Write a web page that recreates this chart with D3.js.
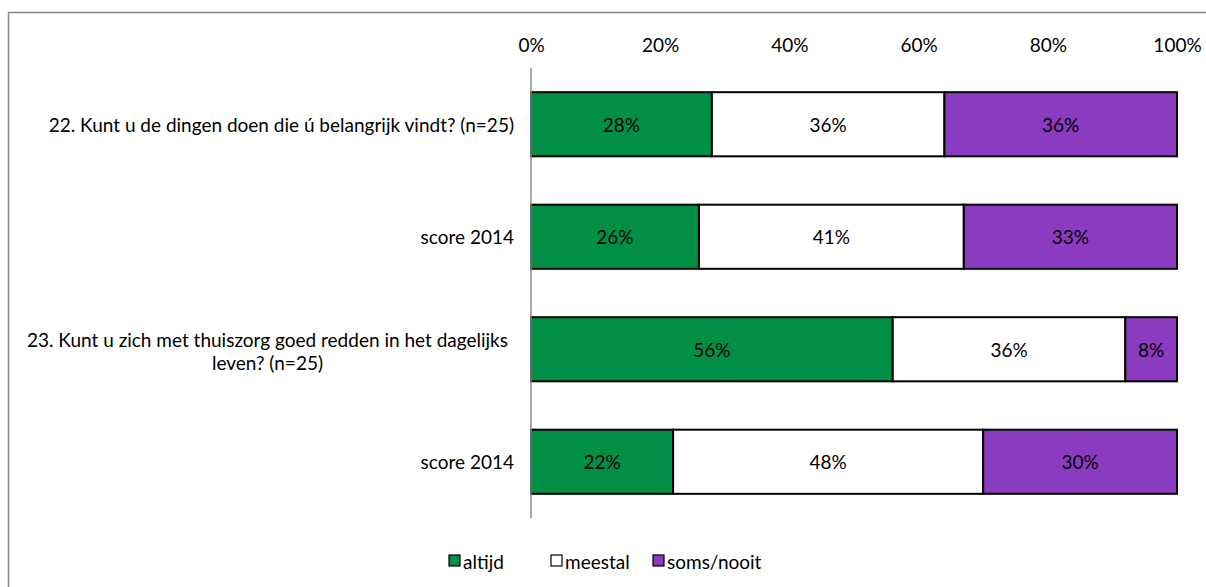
<!DOCTYPE html>
<html>
<head>
<meta charset="utf-8">
<script src="https://cdn.jsdelivr.net/npm/d3@7"></script>
<style>
  body { margin: 0; background: #fff; }
  svg { display: block; font-family: "Lato", "Open Sans", sans-serif; }
</style>
</head>
<body>
<svg id="chart" width="1206" height="587"></svg>
<script>
const categories = [
  ["22. Kunt u de dingen doen die ú belangrijk vindt? (n=25)"],
  ["score 2014"],
  ["23. Kunt u zich met thuiszorg goed redden in het dagelijks", "leven? (n=25)"],
  ["score 2014 "]
];
const seriesNames = ["altijd", "meestal", "soms/nooit"];
const altijd = [28, 26, 56, 22];
const meestal = [36, 41, 36, 48];
const somsNooit = [36, 33, 8, 30];
const tickValues = [0, 20, 40, 60, 80, 100];
const colors = ["#008F45", "#FFFFFF", "#8A3BBF"];

const svg = d3.select("#chart");
const W = 1206, H = 587;
const FS = 19;

// outer border (only top/left visible)
svg.append("rect").attr("x", 8.5).attr("y", 12.5).attr("width", 1300).attr("height", 700)
  .attr("fill", "none").attr("stroke", "#868686").attr("stroke-width", 1.5);

const margin = {left: 531, right: 29, top: 68, bottom: 69};
const x = d3.scaleLinear().domain([0, 100]).range([margin.left, W - margin.right]);
const keys = categories.map((c, i) => i);
const y = d3.scaleBand().domain(keys).range([margin.top, H - margin.bottom]).paddingInner(0.43).paddingOuter(0.215);

const series = [altijd, meestal, somsNooit];
const rows = keys.map(i => ({i, vals: series.map(s => s[i])}));
const stack = d3.stack().keys([0, 1, 2]).value((d, k) => d.vals[k]);
const stacked = stack(rows);

// top axis
const axis = d3.axisTop(x).tickValues(tickValues).tickFormat(d => d + "%").tickSize(0).tickPadding(0);
const ga = svg.append("g").attr("transform", `translate(0, 52)`).call(axis);
ga.select(".domain").remove();
ga.selectAll("text").attr("font-size", FS).attr("fill", "#000").attr("font-family", "Lato, sans-serif");

// bars
stacked.forEach((layer, k) => {
  svg.append("g").selectAll("rect").data(layer).join("rect")
    .attr("x", d => x(d[0]))
    .attr("y", d => y(d.data.i))
    .attr("width", d => x(d[1]) - x(d[0]))
    .attr("height", y.bandwidth())
    .attr("fill", colors[k])
    .attr("stroke", "#000").attr("stroke-width", 2);
  svg.append("g").selectAll("text").data(layer).join("text")
    .attr("x", d => (x(d[0]) + x(d[1])) / 2)
    .attr("y", d => y(d.data.i) + y.bandwidth() / 2)
    .attr("text-anchor", "middle").attr("dominant-baseline", "central")
    .attr("font-size", FS).attr("fill", "#000")
    .text(d => (d[1] - d[0]) + "%");
});

// vertical axis line
svg.append("line").attr("x1", x(0)).attr("x2", x(0)).attr("y1", margin.top).attr("y2", H - margin.bottom)
  .attr("stroke", "#8c8c8c").attr("stroke-width", 1.5);

// category labels
const labelRight = 514;
categories.forEach((lines, i) => {
  const cy = y(i) + y.bandwidth() / 2;
  if (lines.length === 1) {
    svg.append("text").attr("x", labelRight).attr("y", cy)
      .attr("text-anchor", "end").attr("dominant-baseline", "central")
      .attr("font-size", FS).attr("fill", "#000").text(lines[0].trim());
  } else {
    const g = svg.append("g");
    const t = lines.map((ln, j) => g.append("text")
      .attr("y", cy + 2 + (j - (lines.length - 1) / 2) * 23)
      .attr("text-anchor", "middle").attr("dominant-baseline", "central")
      .attr("font-size", FS).attr("fill", "#000").text(ln));
    const maxW = d3.max(t, n => n.node().getComputedTextLength());
    const cx = labelRight - 6 - maxW / 2;
    t.forEach(n => n.attr("x", cx));
  }
});

// legend
const legend = svg.append("g");
const ly = 561;
const lx = d3.scalePoint().domain(seriesNames).range([449, 653]);
seriesNames.forEach((name, k) => {
  const px = lx(name);
  legend.append("rect").attr("x", px).attr("y", ly - 6).attr("width", 11).attr("height", 11)
    .attr("fill", colors[k]).attr("stroke", "#000").attr("stroke-width", 1.2);
  legend.append("text").attr("x", px + 14).attr("y", ly).attr("dominant-baseline", "central")
    .attr("font-size", FS).attr("fill", "#000").text(name);
});
</script>
</body>
</html>
